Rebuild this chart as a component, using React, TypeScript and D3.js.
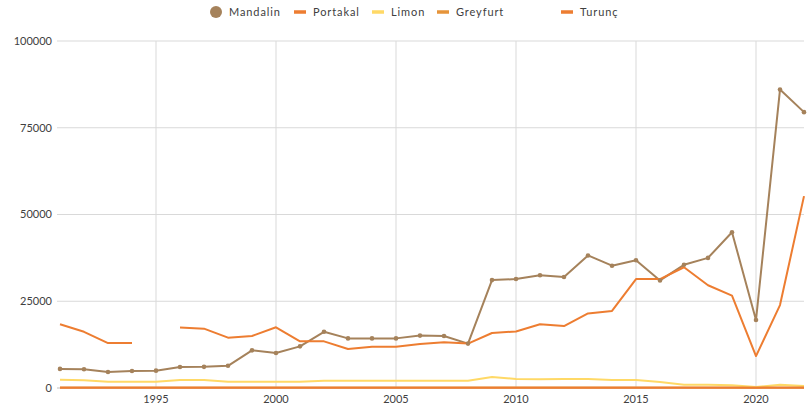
import * as d3 from "d3";
import React, { useEffect, useRef } from "react";

const years = d3.range(1991, 2023);
const yTicks = [0, 25000, 50000, 75000, 100000];
const xTicks = [1995, 2000, 2005, 2010, 2015, 2020];

const mandalin = [5500, 5400, 4600, 4900, 5000, 6050, 6100, 6400, 10850, 10100, 12000, 16200, 14300, 14300, 14300, 15100,
    15000, 12800, 31100, 31400, 32500, 32000, 38200, 35250, 36800, 31000, 35500, 37500, 44900, 19600, 86000, 79500];
const portakal: Array<number | null> = [18350, 16200, 12950, 12950, null, 17400, 17100, 14500, 15000, 17500, 13450, 13450,
    11250, 11900, 11900, 12700, 13150, 12800, 15850, 16300, 18350, 17850, 21500, 22200, 31400, 31400, 34800, 29600, 26600,
    9200, 23900, 55300];
const limon = [2400, 2200, 1800, 1800, 1800, 2300, 2300, 1800, 1800, 1800, 1800, 2100, 2100, 2100, 2100, 2100, 2100, 2100,
    3200, 2600, 2500, 2600, 2600, 2300, 2300, 1700, 950, 950, 800, 300, 950, 550];
const greyfurt = [150, 150, 150, 150, 150, 150, 150, 150, 150, 150, 150, 150, 150, 150, 150, 150, 150, 150, 150, 150, 150,
    150, 150, 150, 150, 150, 150, 150, 150, 100, 150, 150];
const turunc = [50, 50, 50, 50, 50, 50, 50, 50, 50, 50, 50, 50, 50, 50, 50, 50, 50, 50, 50, 50, 50, 50, 50, 50, 50, 50, 50,
    50, 50, 50, 50, 50];

const seriesNames = ["Mandalin", "Portakal", "Limon", "Greyfurt", "Turunç"];
const seriesValues = [mandalin, portakal, limon, greyfurt, turunc];
const colors = ["#a5825b", "#ed7d31", "#ffd966", "#e6943a", "#ed7d31"];
const legendX = [216, 294, 372, 437, 561];

const width = 807;
const height = 407;
const font = "Lato, 'Open Sans', sans-serif";

const App: React.FC = () => {
    const wrapper = useRef<SVGSVGElement>(null);

    useEffect(() => {
        if (!wrapper.current) return;
        const svg = d3.select(wrapper.current);
        svg.selectAll("*").remove();

        const x = d3.scaleLinear().domain([1991, 2022]).range([60, 804]);
        const y = d3.scaleLinear().domain([0, 100000]).range([388, 41]);

        const grid = svg.append("g");
        grid.selectAll(null)
            .data(xTicks)
            .enter()
            .append("line")
            .attr("x1", (d) => x(d))
            .attr("x2", (d) => x(d))
            .attr("y1", y(100000))
            .attr("y2", y(0))
            .attr("stroke", "#d9d9d9")
            .attr("stroke-width", 1);
        grid.selectAll(null)
            .data(yTicks)
            .enter()
            .append("line")
            .attr("x1", 57)
            .attr("x2", 804)
            .attr("y1", (d) => y(d))
            .attr("y2", (d) => y(d))
            .attr("stroke", (d) => (d === 0 ? "#bfbfbf" : "#d9d9d9"))
            .attr("stroke-width", 1);

        svg.append("g")
            .selectAll(null)
            .data(yTicks)
            .enter()
            .append("text")
            .attr("x", 52)
            .attr("y", (d) => y(d))
            .attr("dy", "0.35em")
            .attr("text-anchor", "end")
            .style("font-family", font)
            .style("font-size", "11px")
            .attr("fill", "#404040")
            .text((d) => d);

        svg.append("g")
            .selectAll(null)
            .data(xTicks)
            .enter()
            .append("text")
            .attr("x", (d) => x(d))
            .attr("y", 403)
            .attr("text-anchor", "middle")
            .style("font-family", font)
            .style("font-size", "11px")
            .attr("fill", "#404040")
            .text((d) => d);

        const line = d3.line<number | null>()
            .defined((d) => d !== null)
            .x((_, i) => x(years[i]))
            .y((d) => y(d as number));

        seriesValues.forEach((values, s) => {
            svg.append("path")
                .datum(values as Array<number | null>)
                .attr("d", line)
                .attr("fill", "none")
                .attr("stroke", colors[s])
                .attr("stroke-width", 2)
                .attr("stroke-linejoin", "round");
        });

        svg.append("g")
            .selectAll(null)
            .data(mandalin)
            .enter()
            .append("circle")
            .attr("cx", (_, i) => x(years[i]))
            .attr("cy", (d) => y(d))
            .attr("r", 2.3)
            .attr("fill", colors[0]);

        // legend
        const legend = svg.append("g");
        seriesNames.forEach((name, i) => {
            const lx = legendX[i];
            if (i === 0) {
                legend.append("circle")
                    .attr("cx", lx)
                    .attr("cy", 12)
                    .attr("r", 6)
                    .attr("fill", colors[i]);
            } else {
                legend.append("line")
                    .attr("x1", lx)
                    .attr("x2", lx + 12)
                    .attr("y1", 12)
                    .attr("y2", 12)
                    .attr("stroke", colors[i])
                    .attr("stroke-width", 3.5);
            }
            legend.append("text")
                .attr("x", i === 0 ? lx + 13 : lx + 19)
                .attr("y", 12)
                .attr("dy", "0.35em")
                .style("font-family", font)
                .style("font-size", "11px")
                .style("letter-spacing", "0.9px")
                .attr("fill", "#404040")
                .text(name);
        });
    }, []);

    return (
        <svg
            ref={wrapper}
            width={width}
            height={height}
            viewBox={`0 0 ${width} ${height}`}
            style={{ position: "absolute", left: 0, top: 0, background: "#fff" }}
        />
    );
};

export default App;
